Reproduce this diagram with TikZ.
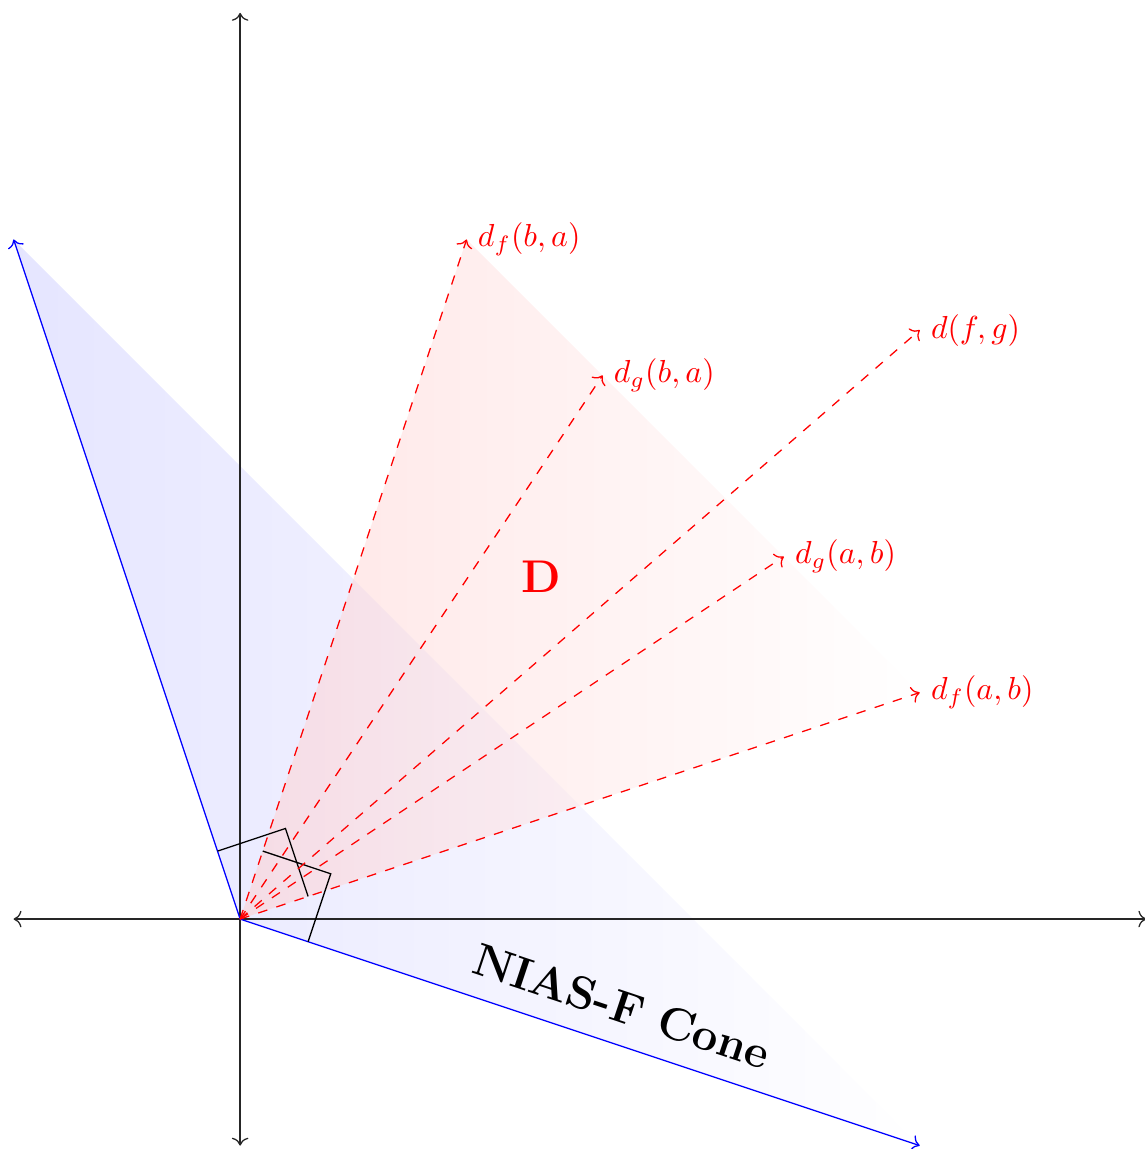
\documentclass[tikz,border=0pt]{standalone}
\usepackage{amsmath,amssymb,amsfonts}
\usepackage{xcolor}
\usepackage{tikz}
\usetikzlibrary{positioning,arrows.meta}

\begin{document}
\begin{tikzpicture}[x=2.5cm, y=2.5cm,
  axis/.style={<->, black!85},
  conevec/.style={->, blue},
  dvec/.style={->, red, dashed},
  dlab/.style={red, right},
  rmark/.style={black}]
\useasboundingbox (-1.06,-1.015) rectangle (3.99,4.057);
\coordinate (O) at (0,0);
\coordinate (ul) at (-1,3);
\coordinate (lr) at (3,-1);
\coordinate (xl) at (-1,0);
\coordinate (xr) at (4,0);
\coordinate (yb) at (0,-1);
\coordinate (yt) at (0,4);
% shaded regions
\shade[left color=blue!20, right color=white, fill opacity=0.5] (ul) -- (O) -- (lr) -- cycle;
\shade[left color=red!20, right color=white, fill opacity=0.5] (O) -- (1,3) -- (3,1) -- cycle;
% axes
\draw[axis] (xl) -- (xr);
\draw[axis] (yb) -- (yt);
% cone generators
\draw[conevec] (O) -- (ul);
\draw[conevec] (O) -- (lr);
% right angles
\draw[rmark] (-0.1,0.3) -- (0.2,0.4) -- (0.3,0.1);
\draw[rmark] (0.1,0.3) -- (0.4,0.2) -- (0.3,-0.1);
% distance vectors
\coordinate (fba) at (1,3);
\coordinate (gba) at (1.6,2.4);
\coordinate (fg) at (3,2.6);
\coordinate (gab) at (2.4,1.6);
\coordinate (fab) at (3,1);
\draw[dvec] (O) -- (fba) node[dlab] (lfba) {$d_f(b,a)$};
\draw[dvec] (O) -- (gba) node[dlab] (lgba) {$d_g(b,a)$};
\draw[dvec] (O) -- (fg) node[dlab] (lfg) {$d(f,g)$};
\draw[dvec] (O) -- (gab) node[dlab] (lgab) {$d_g(a,b)$};
\draw[dvec] (O) -- (fab) node[dlab] (lfab) {$d_f(a,b)$};
\node[red, font=\Large\bfseries] (D) at (1.33,1.51) {D};
\node[rotate=-18.43, font=\Large\bfseries] (cone) at (1.685,-0.385) {NIAS-F Cone};
\end{tikzpicture}
\end{document}
